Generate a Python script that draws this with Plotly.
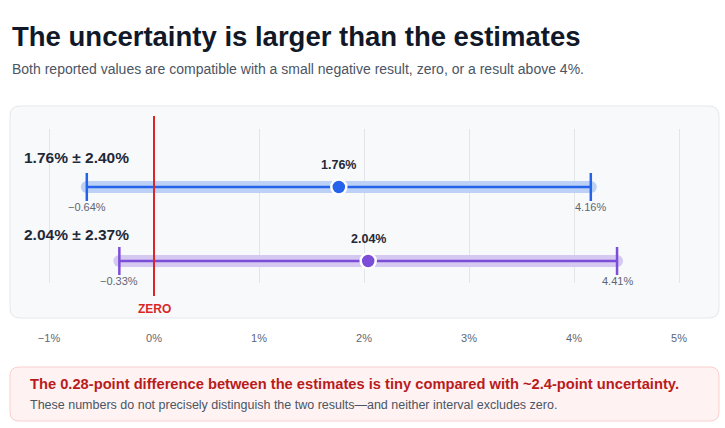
import plotly.graph_objects as go

# estimates and their uncertainty (percent)
names = ['1.76% ± 2.40%', '2.04% ± 2.37%']
estimates = [1.76, 2.04]
uncertainty = [2.40, 2.37]
lows = [-0.64, -0.33]
highs = [4.16, 4.41]
line_colors = ['#2563eb', '#7c4dd8']
band_colors = ['#bdd1f6', '#d5c9f2']
tick_vals = [-1, 0, 1, 2, 3, 4, 5]
tick_text = [('%d%%' % v).replace('-', '\u2212') for v in tick_vals]

W, H = 725, 428
FONT = 'Liberation Sans'


def px(x, y):
    return x / W, 1 - y / H


def rounded_rect(x0, y0, x1, y1, r):
    # path in paper coordinates built from pixel positions
    def p(x, y):
        a, b = px(x, y)
        return '%.5f,%.5f' % (a, b)
    pts = ['M' + p(x0 + r, y0),
           'L' + p(x1 - r, y0),
           'Q' + p(x1, y0) + ' ' + p(x1, y0 + r),
           'L' + p(x1, y1 - r),
           'Q' + p(x1, y1) + ' ' + p(x1 - r, y1),
           'L' + p(x0 + r, y1),
           'Q' + p(x0, y1) + ' ' + p(x0, y1 - r),
           'L' + p(x0, y0 + r),
           'Q' + p(x0, y0) + ' ' + p(x0 + r, y0)]
    return ' '.join(pts) + ' Z'


def note(x, y, text, size, color, anchor='left'):
    fig.add_annotation(x=x / W, y=1 - y / H, xref='paper', yref='paper',
                       xanchor=anchor, yanchor='middle', text=text, showarrow=False,
                       font=dict(family=FONT, size=size, color=color))


fig = go.Figure()
rows = list(range(len(names)))

for i in rows:
    # light band with round ends
    fig.add_trace(go.Scatter(x=[lows[i], highs[i]], y=[i, i], mode='lines+markers',
                             line=dict(color=band_colors[i], width=12),
                             marker=dict(size=12, color=band_colors[i]),
                             hoverinfo='skip', showlegend=False, cliponaxis=False))
    # interval line
    fig.add_trace(go.Scatter(x=[lows[i], highs[i]], y=[i, i], mode='lines',
                             line=dict(color=line_colors[i], width=2.5),
                             hoverinfo='skip', showlegend=False, cliponaxis=False))
    # whiskers
    fig.add_trace(go.Scatter(x=[lows[i], highs[i]], y=[i, i], mode='markers',
                             marker=dict(symbol='line-ns', size=20,
                                         line=dict(color=line_colors[i], width=2.5)),
                             hoverinfo='skip', showlegend=False, cliponaxis=False))
    # point estimate
    fig.add_trace(go.Scatter(x=[estimates[i]], y=[i], mode='markers',
                             marker=dict(size=15, color=line_colors[i],
                                         line=dict(color='white', width=2.5)),
                             name=names[i], showlegend=False, cliponaxis=False))

    fig.add_annotation(x=22 / W, xref='paper', y=i, yref='y', yshift=[29, 27][i],
                       text='<b>%s</b>' % names[i], showarrow=False,
                       xanchor='left', yanchor='middle',
                       font=dict(family=FONT, size=15.5, color='#1f2937'))
    fig.add_annotation(x=estimates[i], y=i, yshift=22, text='<b>%.2f%%</b>' % estimates[i],
                       showarrow=False, yanchor='middle',
                       font=dict(family=FONT, size=12.5, color='#1f2937'))
    for v in (lows[i], highs[i]):
        fig.add_annotation(x=v, y=i, yshift=-20, yanchor='middle',
                           text=('%.2f%%' % v).replace('-', '\u2212'),
                           showarrow=False, font=dict(family=FONT, size=11, color='#5f6673'))

# panel behind the chart
fig.add_shape(type='path', path=rounded_rect(10, 106, 719, 318, 10), xref='paper', yref='paper',
              fillcolor='#f8f9fb', line=dict(color='#e5e7eb', width=1), layer='below')

# zero reference
fig.add_shape(type='line', x0=0, x1=0, xref='x', y0=1 - 116 / H, y1=1 - 296 / H, yref='paper',
              line=dict(color='#dc2626', width=2))
fig.add_annotation(x=0, y=1 - 309 / H, yref='paper', yanchor='middle', text='<b>ZERO</b>',
                   showarrow=False, font=dict(family=FONT, size=12, color='#dc2626'))

# callout box
fig.add_shape(type='path', path=rounded_rect(10, 367, 719, 421, 9), xref='paper', yref='paper',
              fillcolor='#fef2f2', line=dict(color='#fbcfcf', width=1), layer='below')
note(28, 384, '<b>The 0.28-point difference between the estimates is tiny compared with ~2.4-point uncertainty.</b>',
     14.7, '#b91c1c')
note(28, 405, 'These numbers do not precisely distinguish the two results\u2014and neither interval excludes zero.',
     12.5, '#4b5563')

# title and subtitle
note(10, 36, '<b>The uncertainty is larger than the estimates</b>', 27.5, '#111827')
note(10, 69, 'Both reported values are compatible with a small negative result, zero, or a result above 4%.',
     14, '#4b5563')

fig.update_layout(
    width=W, height=H,
    margin=dict(l=0, r=0, t=0, b=0),
    paper_bgcolor='white', plot_bgcolor='rgba(0,0,0,0)',
    font=dict(family=FONT),
    xaxis=dict(range=[-154 / 105, (W - 154) / 105], tickvals=tick_vals, ticktext=tick_text,
               showgrid=True, gridcolor='#e3e5e9', gridwidth=1, zeroline=False,
               showline=False, ticks='', ticklabelstandoff=47,
               tickfont=dict(family=FONT, size=11, color='#5f6673'), fixedrange=True),
    yaxis=dict(domain=[1 - 283 / H, 1 - 129 / H], range=[(283 - 187) / 74, -58 / 74],
               visible=False, fixedrange=True),
)

fig.write_html('out.html', config={'displayModeBar': False},
               post_script="document.body.style.margin='0px';")
